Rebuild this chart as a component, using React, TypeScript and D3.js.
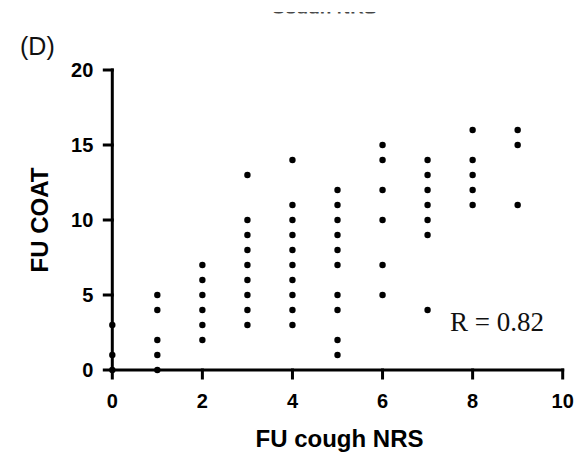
import React from "react";
import * as d3 from "d3";

const xTicks = [0, 2, 4, 6, 8, 10];
const yTicks = [0, 5, 10, 15, 20];

// FU cough NRS (x) -> FU COAT values (y) per column
const coughNRS = [0, 1, 2, 3, 4, 5, 6, 7, 8, 9];
const coatValues: number[][] = [
  [0, 1, 3],
  [0, 1, 2, 4, 5],
  [2, 3, 4, 5, 6, 7],
  [3, 4, 5, 6, 7, 8, 9, 10, 13],
  [3, 4, 5, 6, 7, 8, 9, 10, 11, 14],
  [1, 2, 4, 5, 7, 8, 9, 10, 11, 12],
  [5, 7, 10, 12, 14, 15],
  [4, 9, 10, 11, 12, 13, 14],
  [11, 12, 13, 14, 16],
  [11, 15, 16],
];

const panelLabel = "(D)";
const xLabel = "FU cough NRS";
const yLabel = "FU COAT";
const rText = "R = 0.82";
const cutTitle = "Cough NRS";

export default function App() {
  const W = 581;
  const H = 459;
  const x = d3.scaleLinear().domain([0, 10]).range([112.3, 562.7]);
  const y = d3.scaleLinear().domain([0, 20]).range([370, 70]);
  const points = coughNRS.flatMap((c, i) => coatValues[i].map((v) => ({ c, v })));
  const tick = 8;
  const sans = "'Liberation Sans', Arial, sans-serif";

  return (
    <svg
      width={W}
      height={H}
      style={{ position: "absolute", left: 0, top: 0, background: "#fff" }}
      xmlns="http://www.w3.org/2000/svg"
    >
      <defs>
        <clipPath id="topcut" clipPathUnits="userSpaceOnUse">
          <rect x={0} y={12} width={W} height={1.6} />
        </clipPath>
      </defs>
      <rect width={W} height={H} fill="#fff" />
      <g clipPath="url(#topcut)">
        <text x={324} y={13.6} textAnchor="middle" fontFamily={sans} fontWeight="bold" fontSize={19} fill="#444">
          {cutTitle}
        </text>
      </g>
      <text x={20} y={55} fontFamily={sans} fontSize={25} fill="#111">
        {panelLabel}
      </text>

      {/* axes */}
      <g stroke="#000" strokeWidth={3} fill="none" strokeLinecap="square">
        <line x1={x(0)} x2={x(0)} y1={y(20)} y2={y(0)} />
        <line x1={x(0)} x2={x(10)} y1={y(0)} y2={y(0)} />
        {yTicks.map((t) => (
          <line key={"yt" + t} x1={x(0) - tick} x2={x(0)} y1={y(t)} y2={y(t)} />
        ))}
        {xTicks.map((t) => (
          <line key={"xt" + t} x1={x(t)} x2={x(t)} y1={y(0)} y2={y(0) + tick} />
        ))}
      </g>
      {yTicks.map((t) => (
        <text
          key={"yl" + t}
          x={x(0) - 19}
          y={y(t)}
          dy="0.36em"
          textAnchor="end"
          fontFamily={sans}
          fontWeight="bold"
          fontSize={20}
          fill="#000"
        >
          {t}
        </text>
      ))}
      {xTicks.map((t) => (
        <text
          key={"xl" + t}
          x={x(t)}
          y={408}
          textAnchor="middle"
          fontFamily={sans}
          fontWeight="bold"
          fontSize={20}
          fill="#000"
        >
          {t}
        </text>
      ))}
      <text x={339.5} y={446.5} textAnchor="middle" fontFamily={sans} fontWeight="bold" fontSize={24} fill="#000">
        {xLabel}
      </text>
      <text
        transform={`translate(48,220) rotate(-90)`}
        textAnchor="middle"
        fontFamily={sans}
        fontWeight="bold"
        fontSize={24}
        fill="#000"
      >
        {yLabel}
      </text>

      {points.map((p, i) => (
        <circle key={i} cx={x(p.c)} cy={y(p.v)} r={3.2} fill="#000" />
      ))}

      <text x={450} y={331} fontFamily="'Liberation Serif', 'DejaVu Serif', serif" fontSize={27} fill="#111">
        {rText}
      </text>
    </svg>
  );
}
